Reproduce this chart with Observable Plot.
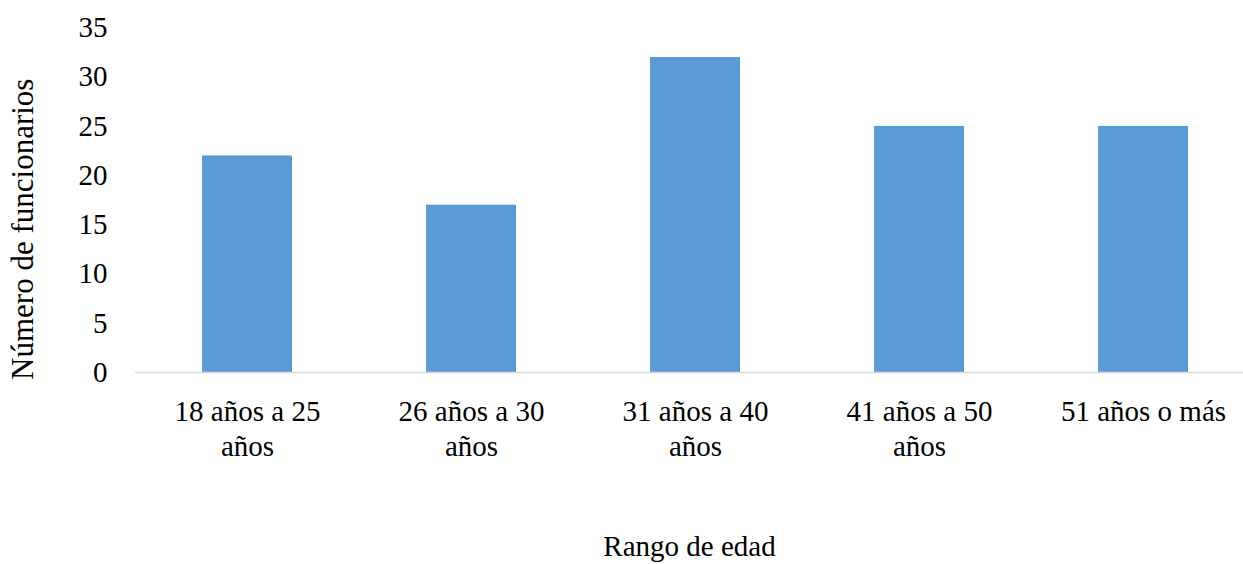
<!DOCTYPE html>
<html>
<head>
<meta charset="utf-8">
<script src="https://cdn.jsdelivr.net/npm/d3@7"></script>
<script src="https://cdn.jsdelivr.net/npm/@observablehq/plot@0.6"></script>
<style>
  html, body { margin: 0; padding: 0; background: #fff; }
  #chart svg { display: block; }
</style>
</head>
<body>
<div id="chart"></div>
<script>
const categories = ["18 años a 25 años", "26 años a 30 años", "31 años a 40 años", "41 años a 50 años", "51 años o más"];
const tickLabels = ["18 años a 25\naños", "26 años a 30\naños", "31 años a 40\naños", "41 años a 50\naños", "51 años o más"];
const values = [22, 17, 32, 25, 25];
const yTicks = [0, 5, 10, 15, 20, 25, 30, 35];
const yTitle = "Número de funcionarios";
const xTitle = "Rango de edad";

const data = categories.map((c, i) => ({category: c, value: values[i]}));
const labelOf = new Map(categories.map((c, i) => [c, tickLabels[i]]));

const font = "'Liberation Serif', 'Times New Roman', serif";

const chart = Plot.plot({
  width: 1243,
  height: 564,
  marginLeft: 135,
  marginRight: 0,
  marginTop: 27.5,
  marginBottom: 192,
  style: {fontFamily: font, fontSize: "29px", color: "#000", background: "#fff"},
  x: {domain: categories, range: [135, 1255], paddingInner: 0.6, paddingOuter: 0.3, label: null},
  y: {domain: [0, 35], range: [372, 27.5], label: null},
  marks: [
    Plot.barY(data, {x: "category", y: "value", fill: "#5b9bd5"}),
    Plot.ruleY([0], {stroke: "#d9d9d9", strokeWidth: 1.5}),
    Plot.axisY({ticks: yTicks, tickSize: 0, tickPadding: 28, label: null, fontSize: 29}),
    Plot.axisX({tickSize: 0, tickPadding: 24, label: null, tickFormat: d => labelOf.get(d), lineHeight: 1.2, fontSize: 29}),
    Plot.text([yTitle], {frameAnchor: "left", textAnchor: "middle", rotate: -90, dx: -112, dy: 29, fontSize: 31, fill: "#000"}),
    Plot.text([xTitle], {frameAnchor: "bottom", dy: 183, fontSize: 29, fill: "#000"})
  ]
});
document.getElementById("chart").appendChild(chart);
</script>
</body>
</html>
